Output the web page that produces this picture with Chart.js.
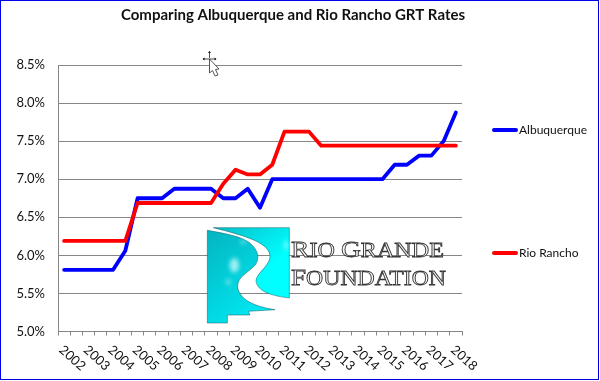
<!DOCTYPE html>
<html><head><meta charset="utf-8">
<style>
html,body{margin:0;padding:0;background:#fff;overflow:hidden}
#wrap{position:relative;width:600px;height:381px;overflow:hidden}
canvas{position:absolute;left:0;top:0}
#frame{position:absolute;left:0;top:0;width:596.5px;height:377.5px;border:1.5px solid #0000e6;pointer-events:none}
svg{position:absolute;pointer-events:none}
</style>
<script src="https://cdn.jsdelivr.net/npm/chart.js@4"></script>
</head><body>
<div id="wrap">
<canvas id="c" width="600" height="381"></canvas>
<svg style="left:200px;top:222px" width="100" height="106" viewBox="0 0 300 318">
<defs>
<linearGradient id="g1" x1="0" y1="0" x2="0.6" y2="1"><stop offset="0" stop-color="#04b4c0"/><stop offset="1" stop-color="#00e8f2"/></linearGradient>
<linearGradient id="g2" x1="0" y1="0" x2="0.8" y2="1"><stop offset="0" stop-color="#08bcc8"/><stop offset="0.7" stop-color="#00ffff"/></linearGradient>
<filter id="b" x="-100%" y="-100%" width="300%" height="300%"><feGaussianBlur stdDeviation="7"/></filter>
</defs>
<path d="M22 25 C80 35 130 45 152 65 C175 85 180 110 165 130 C140 155 112 165 113 195 C118 235 170 255 225 263 L145 268 L150 279 L82 279 L82 303 L22 303 Z" fill="url(#g1)" stroke="#0a5a60" stroke-width="1.5"/>
<path d="M40 17 L268 17 L268 228 C220 222 170 210 168 175 C172 150 212 130 210 100 C205 60 130 40 40 17 Z" fill="url(#g2)" stroke="#0a5a60" stroke-width="1.5"/>
<ellipse cx="103" cy="130" rx="14" ry="22" fill="#c8f8f8" opacity="0.8" filter="url(#b)"/>
<ellipse cx="85" cy="180" rx="8" ry="9" fill="#b0f0f0" opacity="0.6" filter="url(#b)"/>
<ellipse cx="130" cy="60" rx="10" ry="6" fill="#a0f0f0" opacity="0.6" filter="url(#b)"/>
<ellipse cx="258" cy="70" rx="6" ry="14" fill="#b0ffff" opacity="0.7" filter="url(#b)"/>
</svg>
<svg style="left:285px;top:230px" width="170" height="70" viewBox="0 0 170 70" font-family="'Liberation Serif',serif" fill="#f4f4f4" stroke="#333" stroke-width="0.8">
<text x="6" y="27" font-size="24" textLength="153" lengthAdjust="spacingAndGlyphs">R<tspan font-size="21">IO </tspan>G<tspan font-size="21">RANDE</tspan></text>
<text x="6" y="55" font-size="24" textLength="155" lengthAdjust="spacingAndGlyphs">F<tspan font-size="21">OUNDATION</tspan></text>
</svg>
<svg style="left:200px;top:50px" width="26" height="30" viewBox="0 0 26 30">
<path d="M9.5 9 L9.5 23 L12.5 20.5 L15 26 L18 25 L15.5 19.5 L19 19 Z" fill="#fff" stroke="#555" stroke-width="1"/>
<path d="M9.5 1.5 L9.5 8 M3 9 L16 9" stroke="#222" stroke-width="0.8"/>
<path d="M9.5 1 L8 3 L11 3 Z M2.5 9 L4.5 7.5 L4.5 10.5 Z M16.5 9 L14.5 7.5 L14.5 10.5 Z" fill="#111"/>
</svg>
<div id="frame"></div>
</div>
<script>
const categories = ['2002','','2003','','2004','','2005','','2006','','2007','','2008','','2009','','2010','','2011','','2012','','2013','','2014','','2015','','2016','','2017','','2018'];
const albuquerque = [5.81,5.81,5.81,5.81,5.81,6.06,6.75,6.75,6.75,6.875,6.875,6.875,6.875,6.75,6.75,6.875,6.625,7.0,7.0,7.0,7.0,7.0,7.0,7.0,7.0,7.0,7.0,7.19,7.19,7.31,7.31,7.5,7.875];
const rioRancho = [6.19,6.19,6.19,6.19,6.19,6.19,6.6875,6.6875,6.6875,6.6875,6.6875,6.6875,6.6875,6.94,7.125,7.0625,7.0625,7.19,7.625,7.625,7.625,7.44,7.44,7.44,7.44,7.44,7.44,7.44,7.44,7.44,7.44,7.44,7.44];
const FONT = 'Lato, sans-serif';

const extras = {
  id: 'extras',
  afterDraw(chart) {
    const ctx = chart.ctx, x = chart.scales.x;
    ctx.save();
    ctx.fillStyle = '#111';
    ctx.font = '13px ' + FONT;
    ctx.textAlign = 'left';
    ctx.textBaseline = 'middle';
    categories.forEach((label, i) => {
      if (!label) return;
      ctx.save();
      ctx.translate(x.getPixelForValue(i) - 3, 348);
      ctx.rotate(42 * Math.PI / 180);
      ctx.fillText(label, 0, 0);
      ctx.restore();
    });
    const ys = [130, 253];
    chart.data.datasets.forEach((d, i) => {
      ctx.strokeStyle = d.borderColor;
      ctx.lineWidth = 4;
      ctx.lineCap = 'round';
      ctx.beginPath();
      ctx.moveTo(494, ys[i]);
      ctx.lineTo(516, ys[i]);
      ctx.stroke();
      ctx.fillStyle = '#111';
      ctx.font = '12px ' + FONT;
      ctx.fillText(d.label, 519, ys[i]);
    });
    ctx.restore();
  }
};

new Chart(document.getElementById('c'), {
  type: 'line',
  data: {
    labels: categories,
    datasets: [
      {label:'Albuquerque', data: albuquerque, borderColor:'#0000ff', backgroundColor:'#0000ff', borderWidth:3.8, pointRadius:0, tension:0, borderJoinStyle:'round', borderCapStyle:'round', order:2},
      {label:'Rio Rancho', data: rioRancho, borderColor:'#ff0000', backgroundColor:'#ff0000', borderWidth:3.8, pointRadius:0, tension:0, borderJoinStyle:'round', borderCapStyle:'round', order:1}
    ]
  },
  plugins: [extras],
  options: {
    responsive: false,
    animation: false,
    layout: {padding: {left:0, right:14, top:0, bottom:0}},
    plugins: {
      legend: {display:false},
      tooltip: {enabled:false},
      title: {display:true, text:'Comparing Albuquerque and Rio Rancho GRT Rates', color:'#111',
        font:{family:FONT, size:15, weight:'bold', lineHeight:1.2}, padding:{top:6, bottom:41}}
    },
    scales: {
      x: {
        type:'category', offset:true,
        afterFit(s){ s.height = 49.5; },
        border:{display:true, color:'#868686', width:1},
        grid:{display:true, offset:true, drawOnChartArea:false, drawTicks:true, tickLength:4, color:'#868686', lineWidth:1},
        ticks:{display:false, autoSkip:false}
      },
      y: {
        min:5, max:8.5,
        afterFit(s){ s.width = 58; },
        border:{display:true, color:'#868686', width:1},
        grid:{color:'#868686', lineWidth:1, drawTicks:false},
        ticks:{stepSize:0.5, padding:13, color:'#111', font:{family:FONT, size:13}, callback:v => v.toFixed(1)+'%'}
      },
      spacer: {
        position:'right', display:true,
        afterFit(s){ s.width = 124; },
        border:{display:false},
        grid:{display:false, drawTicks:false},
        ticks:{display:false}
      }
    }
  }
});
</script>
</body></html>
